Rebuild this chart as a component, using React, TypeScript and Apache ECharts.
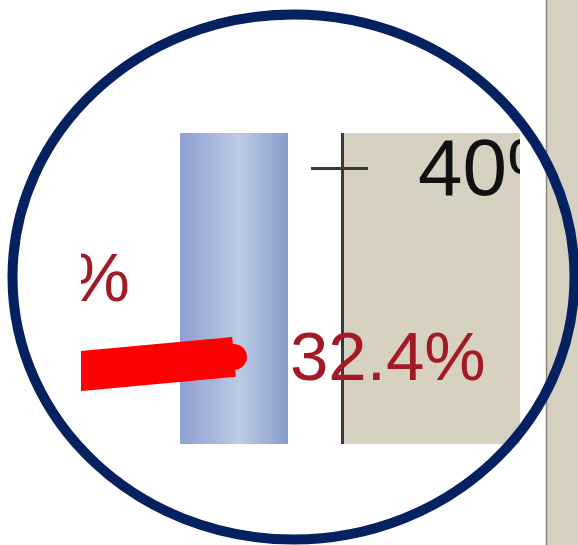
import React, { useEffect, useRef } from "react";
import * as echarts from "echarts";

// Two consecutive periods: bar totals and the red rate line (percent)
const categories = ["2008", "2009"];
const barValues = [46.0, 47.5];
const rateValues = [31.6, 32.4];
const rateAxisTicks = [40];
const rateAxisMin = 28.9;
const rateAxisMax = 41.4;

const FONT = "'Liberation Sans', Arial, sans-serif";

export default function App() {
  const ref = useRef<HTMLDivElement>(null);

  useEffect(() => {
    const chart = echarts.init(ref.current!, null, { renderer: "svg" });
    const last = rateValues.length - 1;

    chart.setOption({
      animation: false,
      backgroundColor: "#ffffff",
      grid: {
        left: -90,
        right: 236,
        top: 133,
        bottom: 101,
        containLabel: false,
        outerBoundsMode: "none",
      },
      xAxis: { type: "category", data: categories, show: false },
      yAxis: [
        {
          type: "value",
          position: "right",
          min: rateAxisMin,
          max: rateAxisMax,
          axisLine: { show: true, lineStyle: { color: "#3a3a3a", width: 3 } },
          axisTick: {
            show: true,
            inside: false,
            length: 26,
            customValues: rateAxisTicks,
            lineStyle: { color: "#3a3a3a", width: 3 },
          },
          axisLabel: {
            show: true,
            customValues: rateAxisTicks,
            formatter: (v: number) => `${v}%`,
            margin: 76,
            fontSize: 80,
            color: "#111111",
            fontFamily: FONT,
          },
          splitLine: { show: false },
        },
        {
          type: "value",
          position: "right",
          min: rateAxisMin,
          max: rateAxisMax,
          axisLine: { show: false },
          axisTick: {
            show: true,
            inside: true,
            length: 31,
            customValues: rateAxisTicks,
            lineStyle: { color: "#3a3a3a", width: 3 },
          },
          axisLabel: { show: false },
          splitLine: { show: false },
        },
      ],
      series: [
        {
          type: "bar",
          yAxisIndex: 0,
          data: barValues,
          barWidth: 108,
          itemStyle: {
            color: new echarts.graphic.LinearGradient(0, 0, 1, 0, [
              { offset: 0, color: "#8e9fd3" },
              { offset: 0.55, color: "#bdcbe4" },
              { offset: 1, color: "#879dca" },
            ]),
          },
          z: 2,
        },
        {
          type: "line",
          yAxisIndex: 0,
          data: rateValues.map((v, i) => ({
            value: v,
            label:
              i === last
                ? { position: "right", distance: 43 }
                : { position: "inside", offset: [14, -99], align: "center", verticalAlign: "middle" },
          })),
          lineStyle: { color: "#ff0000", width: 40, cap: "butt" },
          symbol: "circle",
          symbolSize: 26,
          itemStyle: { color: "#ff0000" },
          label: {
            show: true,
            formatter: (p: any) => `${p.value}%`,
            fontSize: 69,
            color: "#a31a26",
            fontFamily: FONT,
          },
          z: 3,
        },
      ],
      graphic: {
        elements: [
          {
            type: "rect",
            silent: true,
            z: -1,
            shape: { x: 343, y: 133, width: 177, height: 311 },
            style: { fill: "#d6d1c1" },
          },
          // white frame around the magnified detail
          { type: "rect", silent: true, z: 50, shape: { x: 0, y: 0, width: 546, height: 133 }, style: { fill: "#ffffff" } },
          { type: "rect", silent: true, z: 50, shape: { x: 0, y: 444, width: 546, height: 101 }, style: { fill: "#ffffff" } },
          { type: "rect", silent: true, z: 50, shape: { x: 0, y: 133, width: 81, height: 311 }, style: { fill: "#ffffff" } },
          { type: "rect", silent: true, z: 50, shape: { x: 520, y: 133, width: 26, height: 311 }, style: { fill: "#ffffff" } },
          // side panel
          { type: "rect", silent: true, z: 50, shape: { x: 546, y: 0, width: 32, height: 545 }, style: { fill: "#d5d0bf" } },
          {
            type: "line",
            silent: true,
            z: 51,
            shape: { x1: 546.5, y1: 0, x2: 546.5, y2: 545 },
            style: { stroke: "#8b8676", lineWidth: 1.5 },
          },
          // magnifier ring
          {
            type: "ellipse",
            silent: true,
            z: 60,
            shape: { cx: 293.5, cy: 277, rx: 281, ry: 262.5 },
            style: { fill: "none", stroke: "#052160", lineWidth: 10 },
          },
        ],
      },
    });

    return () => chart.dispose();
  }, []);

  return (
    <div
      ref={ref}
      style={{ position: "fixed", left: 0, top: 0, width: 578, height: 545 }}
    />
  );
}
